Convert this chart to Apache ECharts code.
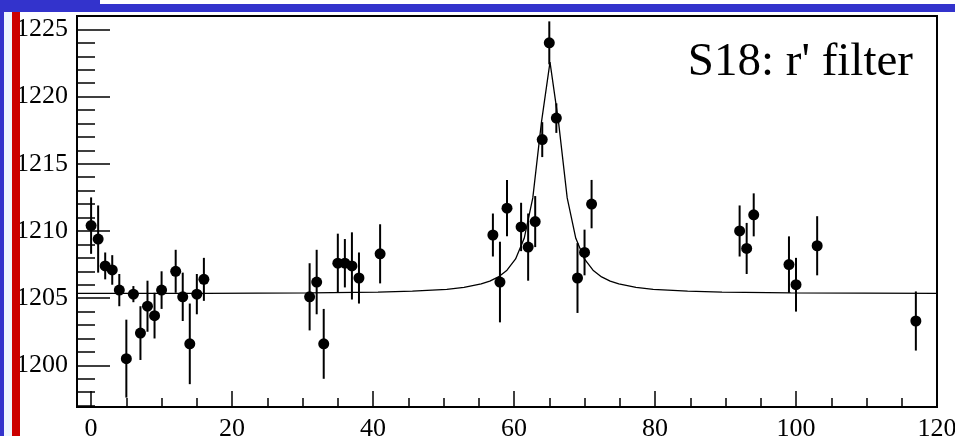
<!DOCTYPE html>
<html>
<head>
<meta charset="utf-8">
<script src="https://cdn.jsdelivr.net/npm/echarts@6/dist/echarts.min.js"></script>
<style>
html,body{margin:0;padding:0;background:#fff;}
#c{width:955px;height:436px;}
</style>
</head>
<body>
<div id="c"></div>
<script>
// measured points: x, value, symmetric error
const pointX = [0,1,2,3,4,5,6,7,8,9,10,12,13,14,15,16,31,32,33,35,36,37,38,41,57,58,59,61,62,63,64,65,66,69,70,71,92,93,94,99,100,103,117];
const pointY = [1210.4,1209.4,1207.4,1207.1,1205.6,1200.5,1205.3,1202.4,1204.4,1203.7,1205.6,1207.0,1205.1,1201.6,1205.3,1206.4,1205.1,1206.2,1201.6,1207.6,1207.6,1207.4,1206.5,1208.3,1209.7,1206.2,1211.7,1210.3,1208.8,1210.7,1216.8,1224.0,1218.4,1206.5,1208.4,1212.0,1210.0,1208.7,1211.2,1207.5,1206.0,1208.9,1203.3];
const pointErr = [2.1,2.5,1.0,1.1,1.2,2.9,0.6,2.0,1.9,1.7,1.4,1.6,1.8,3.0,1.5,1.6,2.5,2.4,2.6,2.2,1.8,2.5,1.9,2.2,1.6,3.0,2.1,1.8,2.5,1.9,1.3,1.6,1.1,2.6,1.7,1.8,1.9,1.9,1.6,2.1,2.0,2.2,2.2];

// fitted curve
const fitX = [-2,16.3,30.94,40.7,45.58,50.46,52.9,55.34,56.56,57.78,59.0,60.22,61.44,62.66,63.88,65.1,66.32,67.54,68.76,69.98,71.2,72.42,73.64,74.86,77.3,79.74,84.62,89.5,99.26,120];
const fitY = [1205.35,1205.36,1205.39,1205.45,1205.52,1205.66,1205.80,1206.06,1206.27,1206.58,1207.08,1207.92,1209.45,1212.46,1218.06,1222.57,1218.06,1212.46,1209.45,1207.92,1207.08,1206.58,1206.27,1206.06,1205.80,1205.66,1205.52,1205.45,1205.39,1205.35];

const xMajorTicks = [0,20,40,60,80,100,120];
const xMinorTicks = [5,10,15,25,30,35,45,50,55,65,70,75,85,90,95,105,110,115];
const yMajorTicks = [1200,1205,1210,1215,1220,1225];
const yMinorTicks = [1197,1198,1199,1201,1202,1203,1204,1206,1207,1208,1209,1211,1212,1213,1214,1216,1217,1218,1219,1221,1222,1223,1224];

const titleText = "S18: r' filter";

const X_MIN = -2, X_MAX = 120, Y_MIN = 1196.9, Y_MAX = 1226.0;
const serif = '"Liberation Serif", "DejaVu Serif", serif';

const chart = echarts.init(document.getElementById('c'), null, {renderer: 'canvas'});

const pts = pointX.map((x, i) => [x, pointY[i], pointErr[i]]);
const fit = fitX.map((x, i) => [x, fitY[i]]);

function plain(v) { return String(v); }

function xAxisDef(ticks, len, showLabel, showLine) {
  return {
    type: 'value', min: X_MIN, max: X_MAX, position: 'bottom',
    axisLine: {show: showLine, onZero: false, lineStyle: {color: '#000', width: 1.5}},
    axisTick: {show: true, inside: true, length: len, customValues: ticks, lineStyle: {color: '#000', width: 1.5}},
    axisLabel: {show: showLabel, customValues: ticks, margin: 9, color: '#000', fontFamily: serif, fontSize: 26, formatter: plain, hideOverlap: false},
    splitLine: {show: false}
  };
}
function yAxisDef(ticks, len, showLabel, showLine) {
  return {
    type: 'value', min: Y_MIN, max: Y_MAX, position: 'left',
    axisLine: {show: showLine, onZero: false, lineStyle: {color: '#000', width: 1.5}},
    axisTick: {show: true, inside: true, length: len, customValues: ticks, lineStyle: {color: '#000', width: 1.5}},
    axisLabel: {show: showLabel, customValues: ticks, margin: 9, color: '#000', fontFamily: serif, fontSize: 26, formatter: plain},
    splitLine: {show: false}
  };
}

chart.setOption({
  animation: false,
  backgroundColor: '#fff',
  grid: {left: 77, right: 18, top: 16, bottom: 29, containLabel: false, outerBoundsMode: 'none',
         show: true, borderColor: '#000', borderWidth: 2, backgroundColor: 'transparent'},
  xAxis: [xAxisDef(xMajorTicks, 16, true, true), xAxisDef(xMinorTicks, 9, false, false)],
  yAxis: [yAxisDef(yMajorTicks, 33, true, true), yAxisDef(yMinorTicks, 18, false, false)],
  series: [
    {
      type: 'line', data: fit, xAxisIndex: 0, yAxisIndex: 0,
      showSymbol: false, smooth: false,
      lineStyle: {color: '#000', width: 1.3}, z: 2
    },
    {
      type: 'custom', data: pts, xAxisIndex: 0, yAxisIndex: 0, clip: true, z: 3,
      renderItem: function (params, api) {
        const x = api.value(0), y = api.value(1), e = api.value(2);
        const top = api.coord([x, y + e]);
        const bot = api.coord([x, y - e]);
        const c = api.coord([x, y]);
        return {
          type: 'group',
          children: [
            {type: 'line', shape: {x1: top[0], y1: top[1], x2: bot[0], y2: bot[1]}, style: {stroke: '#000', lineWidth: 2}},
            {type: 'circle', shape: {cx: c[0], cy: c[1], r: 5.5}, style: {fill: '#000'}}
          ]
        };
      }
    }
  ],
  graphic: [
    {type: 'rect', shape: {x: 0, y: 4, width: 955, height: 8}, style: {fill: '#3333cc'}, z: 100},
    {type: 'rect', shape: {x: 0, y: 0, width: 4, height: 436}, style: {fill: '#3333cc'}, z: 100},
    {type: 'rect', shape: {x: 0, y: 0, width: 100, height: 4}, style: {fill: '#3333cc'}, z: 100},
    {type: 'rect', shape: {x: 4, y: 12, width: 8, height: 424}, style: {fill: '#eef6ff'}, z: 100},
    {type: 'rect', shape: {x: 12, y: 12, width: 8, height: 424}, style: {fill: '#cc0000'}, z: 100},
    {type: 'text', right: 42, top: 39, style: {text: titleText, font: '47px ' + serif, fill: '#000'}, z: 50}
  ]
});
</script>
</body>
</html>
